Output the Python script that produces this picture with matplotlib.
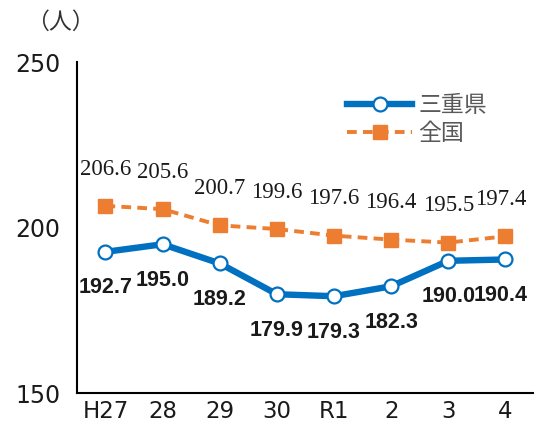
import matplotlib
matplotlib.use('Agg')
import matplotlib.pyplot as plt

# data
years = ['H27', '28', '29', '30', 'R1', '2', '3', '4']
mie = [192.7, 195.0, 189.2, 179.9, 179.3, 182.3, 190.0, 190.4]
zenkoku = [206.6, 205.6, 200.7, 199.6, 197.6, 196.4, 195.5, 197.4]

blue = '#0070C0'
orange = '#ED7D31'
cjk = ['Noto Sans CJK JP', 'DejaVu Sans']

fig = plt.figure(figsize=(5.34, 4.26), dpi=100)
ax = fig.add_axes([0.144, 0.077, 0.856, 0.777])

x = list(range(len(years)))
ax.plot(x, mie, color=blue, lw=4.6, marker='o', markersize=10,
        markerfacecolor='white', markeredgecolor=blue, markeredgewidth=1.6,
        label='三重県', zorder=3)
ax.plot(x, zenkoku, color=orange, lw=2.8, ls=(0, (2.5, 1.6)), marker='s',
        markersize=9.5, markerfacecolor=orange, markeredgecolor=orange,
        label='全国', zorder=3)

# data labels (last one nudged left to stay inside the figure)
for i, v in enumerate(zenkoku):
    dx = -3.6 if i == len(x) - 1 else 0
    ax.annotate(f'{v:.1f}', (i, v), xytext=(dx, 26.5), textcoords='offset points',
                ha='center', va='center', fontsize=16.5,
                family='Liberation Serif', color='#1a1a1a')
for i, v in enumerate(mie):
    dx = -3.6 if i == len(x) - 1 else 0
    ax.annotate(f'{v:.1f}', (i, v), xytext=(dx, -26), textcoords='offset points',
                ha='center', va='center', fontsize=15.5, fontweight='bold',
                family='Liberation Sans', color='#1a1a1a')

ax.set_xlim(-0.5, 7.5)
ax.set_ylim(150, 250)
ax.set_yticks([150, 200, 250])
ax.set_xticks(x)
ax.set_xticklabels(years)
ax.tick_params(length=0, labelsize=17, colors='#1a1a1a')
ax.tick_params(axis='y', pad=12)
ax.tick_params(axis='x', pad=5, labelsize=16.5)
for s in ['top', 'right']:
    ax.spines[s].set_visible(False)
for s in ['left', 'bottom']:
    ax.spines[s].set_color('black')
    ax.spines[s].set_linewidth(1.5)

fig.text(26 / 534, 1 - 22 / 426, '（人）', family=cjk, fontsize=16.5,
         va='center', ha='left', color='#333333')

leg = ax.legend(loc='upper left', bbox_to_anchor=(336 / 534, 1 - 83 / 426),
                bbox_transform=fig.transFigure, frameon=False, borderpad=0,
                handlelength=2.8, handletextpad=0.28, labelspacing=0.22,
                prop={'family': cjk, 'size': 16.5})
for t in leg.get_texts():
    t.set_color('#595959')

fig.savefig('out.png', dpi=100)
